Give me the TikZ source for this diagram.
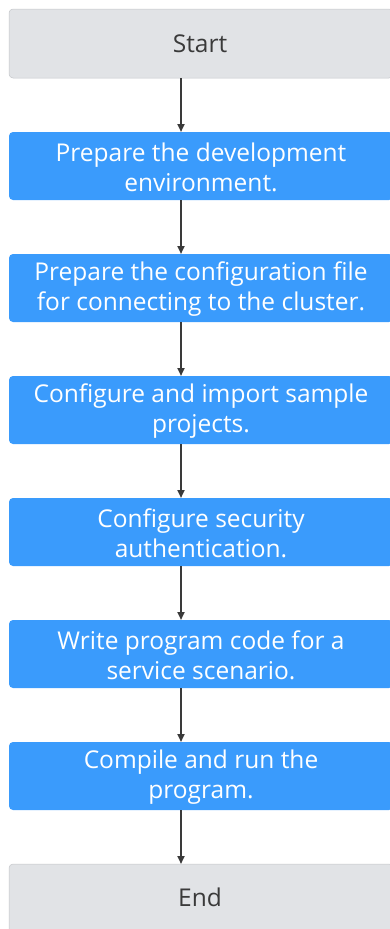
\documentclass[tikz,border=0pt]{standalone}
\usepackage{fontspec}
\setmainfont{Open Sans}
\usetikzlibrary{arrows.meta}
\definecolor{boxblue}{HTML}{3A9BFC}
\definecolor{boxgray}{HTML}{E1E3E6}
\definecolor{grayline}{HTML}{C4C6C9}
\definecolor{arrowc}{HTML}{3A3A3A}
\definecolor{textgray}{HTML}{3A3A3A}
\tikzset{
  boxfont/.style={font=\fontsize{24.5}{30}\selectfont},
  bluebox/.style={fill=boxblue, rounded corners=4pt},
  bluetext/.style={text=white, align=center, boxfont},
  graybox/.style={fill=boxgray, draw=grayline, line width=0.5pt, rounded corners=4pt},
  graytext/.style={text=textgray, boxfont},
  conn/.style={draw=arrowc, line width=2pt, -{Triangle[length=8pt,width=7pt]}}
}
\begin{document}
\begin{tikzpicture}[x=1pt,y=1pt]
\useasboundingbox (0,0) rectangle (390,-929);
% start
\path[graybox] (9,-9) rectangle (393,-78);
\node[graytext] (start) at (200,-43.5) {Start};
\coordinate (s0) at (181,-78);
% blue boxes
\foreach \t/\n/\txt in {132/b1/{Prepare the development\\environment.},
                        254/b2/{Prepare the configuration file\\for connecting to the cluster.},
                        376/b3/{Configure and import sample\\projects.},
                        498/b4/{Configure security\\authentication.},
                        620/b5/{Write program code for a\\service scenario.},
                        742/b6/{Compile and run the\\program.}}{
  \path[bluebox] (9,-\t) rectangle (393,-\t-68);
  \node[bluetext] (\n) at (201,-\t-35) {\txt};
  \coordinate (\n t) at (181,-\t);
  \coordinate (\n b) at (181,-\t-68);
}
% end
\path[graybox] (9,-864) rectangle (393,-935);
\node[graytext] (end) at (200,-897) {End};
\coordinate (e0) at (181,-864);
\draw[conn] (s0) -- (b1t);
\draw[conn] (b1b) -- (b2t);
\draw[conn] (b2b) -- (b3t);
\draw[conn] (b3b) -- (b4t);
\draw[conn] (b4b) -- (b5t);
\draw[conn] (b5b) -- (b6t);
\draw[conn] (b6b) -- (e0);
\end{tikzpicture}
\end{document}
